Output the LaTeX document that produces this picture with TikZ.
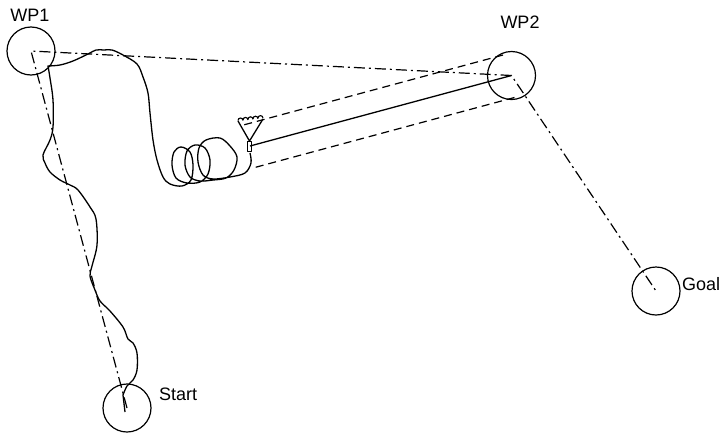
\documentclass[tikz,border=0pt]{standalone}
\usepackage{fontspec}
\setmainfont{Liberation Sans}
\usetikzlibrary{calc}

\begin{document}
\begin{tikzpicture}[x=1pt,y=-1pt,
    wp/.style={circle,draw,line width=1.2pt,minimum size=48pt,inner sep=0pt},
    route/.style={line width=1.2pt,dash pattern=on 11pt off 4pt on 2pt off 4pt},
    lane/.style={line width=1.2pt,dash pattern=on 8pt off 5pt},
    track/.style={line width=1.3pt,line join=round},
    lbl/.style={font=\fontsize{18}{20}\selectfont,inner sep=0pt}]
    		\useasboundingbox (0,0) rectangle (725,434);

    		\node[wp] (wp1) at (31,51) {};
    		\node[wp] (wp2) at (511.5,75.5) {};
    		\node[wp] (goal) at (656,291) {};
    		\node[wp] (start) at (127,408) {};

    		\node[lbl] (wp1lbl) at (30,15) {WP1};
    		\node[lbl] (wp2lbl) at (520,22) {WP2};
    		\node[lbl,anchor=west] (goallbl) at (682,284) {Goal};
    		\node[lbl,anchor=west] (startlbl) at (159,394) {Start};

    		\draw[route] (start.center) -- (wp1.center) -- (wp2.center) -- (goal.center);

    		\coordinate (robot) at (250,146);
    		\draw[track] (robot) -- (wp2.center);
    		\draw[lane] ($(robot)!22pt!90:(wp2.center)$) -- ($(wp2.center)!22pt!-90:(robot)$);
    		\draw[lane] ($(robot)!22pt!-90:(wp2.center)$) -- ($(wp2.center)!22pt!90:(robot)$);

    		\draw[track] (125,412)
    				-- plot[smooth,tension=0.55] coordinates {(123,395) (127,386) (133,380) (137,370)
    					(137,353) (133,343) (128,339) (123,327) (110,311) (100,301) (95,290) (90,276)
    					(92,266) (97,245) (96,219) (90,207) (78,190) (70,185) (60,180) (50,172)
    					(45,163) (43,155) (50,140) (53,127) (53,100) (50,78) (48,66)}
    				-- plot[smooth,tension=0.55] coordinates {(48,66) (60,65) (73,61) (88,54) (96,50)
    					(104,50) (112,50) (123,55) (137,64) (143,77) (148,93) (150,113) (153,140)
    					(157,160) (163,177) (170,184) (182,186) (191,180) (193,165) (190,152)
    					(181,147) (174,152) (172,165) (176,178) (187,183) (200,182) (208,174)
    					(210,160) (205,148) (195,145) (187,151) (185,165) (190,177) (200,181)
    					(213,180) (226,178) (234,170) (237,157) (230,146) (220,138) (206,140)
    					(199,148) (198,162) (203,175) (213,179) (230,177) (245,173) (251,163)
    					(250,153)};

    		\draw[track] (247.5,141.5) rectangle (251.5,151.5);
    		\draw[track] (238,121) -- (249.5,141) -- (263,119);
    		\foreach \i in {0,...,4}
    				\draw[line width=1.1pt] (238+5*\i,{120.5-0.6*\i}) arc[start angle=180,end angle=0,radius=2.5pt];
\end{tikzpicture}
\end{document}
